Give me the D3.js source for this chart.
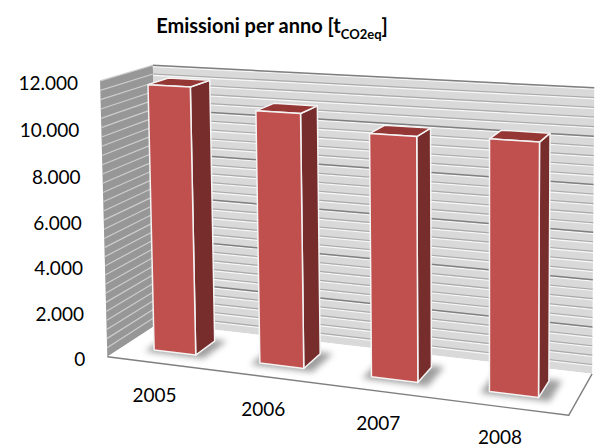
<!DOCTYPE html>
<html>
<head>
<meta charset="utf-8">
<script src="https://cdn.jsdelivr.net/npm/d3@7"></script>
<style>
  body { margin: 0; background: #fff; }
  svg { display: block; }
</style>
</head>
<body>
<script>
// ---- data ----
const years = ["2005", "2006", "2007", "2008"];
const emissions = [11700, 10850, 10200, 10300];
const yTicks = [0, 2000, 4000, 6000, 8000, 10000, 12000];
const yTickLabels = ["0", "2.000", "4.000", "6.000", "8.000", "10.000", "12.000"];
const yMax = 12000;
const minorStep = 400;

const width = 595, height = 448;
const FONT = "Lato, 'Open Sans', sans-serif";

// ---- world scales: x = category units, y = value fraction, z = depth (0 front, 1 back) ----
const xBand = d3.scaleBand().domain(years).range([0, years.length]).paddingInner(0.6).paddingOuter(0.3);
const zBand = d3.scaleBand().domain(["Emissioni"]).range([0, 1]).paddingInner(0.6).paddingOuter(0.3);
const yScale = d3.scaleLinear().domain([0, yMax]).range([0, 1]);
const X1 = years.length;

// ---- perspective view: 3x4 camera matrix fitted to the box corners on screen ----
const viewCorners = [
  { w: [0, 0, 0], s: [110, 357] },
  { w: [X1, 0, 0], s: [568, 416] },
  { w: [0, 0, 1], s: [156, 323] },
  { w: [X1, 0, 1], s: [593, 373] },
  { w: [0, 1, 0], s: [98, 80] },
  { w: [0, 1, 1], s: [155, 66] },
  { w: [X1, 1, 1], s: [594, 88] }
];

function fitCamera(pts) {
  const cx = 300, cy = 240, k = 300;           // normalise screen coords
  const A = [], b = [];
  pts.forEach(({ w: [X, Y, Z], s }) => {
    const x = (s[0] - cx) / k, y = (s[1] - cy) / k;
    A.push([X, Y, Z, 1, 0, 0, 0, 0, -x * X, -x * Y, -x * Z]); b.push(x);
    A.push([0, 0, 0, 0, X, Y, Z, 1, -y * X, -y * Y, -y * Z]); b.push(y);
  });
  const n = 11;
  const M = [];
  for (let i = 0; i < n; i++) {
    const row = new Array(n + 1).fill(0);
    for (let r = 0; r < A.length; r++) {
      for (let j = 0; j < n; j++) row[j] += A[r][i] * A[r][j];
      row[n] += A[r][i] * b[r];
    }
    M.push(row);
  }
  for (let c = 0; c < n; c++) {
    let p = c;
    for (let r = c + 1; r < n; r++) if (Math.abs(M[r][c]) > Math.abs(M[p][c])) p = r;
    [M[c], M[p]] = [M[p], M[c]];
    for (let r = 0; r < n; r++) {
      if (r === c) continue;
      const f = M[r][c] / M[c][c];
      for (let j = c; j <= n; j++) M[r][j] -= f * M[c][j];
    }
  }
  const q = M.map((row, i) => row[n] / row[i]);
  return ([X, Y, Z]) => {
    const w = q[8] * X + q[9] * Y + q[10] * Z + 1;
    return [
      cx + k * (q[0] * X + q[1] * Y + q[2] * Z + q[3]) / w,
      cy + k * (q[4] * X + q[5] * Y + q[6] * Z + q[7]) / w
    ];
  };
}
const project = fitCamera(viewCorners);
const poly = pts => "M" + pts.map(p => project(p).join(",")).join("L") + "Z";
const seg = (a, b) => "M" + project(a).join(",") + "L" + project(b).join(",");

// ---- svg ----
const svg = d3.select("body").append("svg")
  .attr("width", width).attr("height", height)
  .attr("viewBox", `0 0 ${width} ${height}`);

const defs = svg.append("defs");
defs.append("filter").attr("id", "soft").attr("x", "-50%").attr("y", "-50%").attr("width", "200%").attr("height", "200%")
  .append("feGaussianBlur").attr("stdDeviation", 3);

// title
const title = svg.append("text")
  .attr("x", 272).attr("y", 33)
  .attr("text-anchor", "middle")
  .attr("font-family", FONT).attr("font-weight", "bold")
  .attr("font-size", 20).attr("fill", "#000");
title.append("tspan").text("Emissioni per anno [t");
title.append("tspan").attr("font-size", 13).attr("dy", 6).text("CO2eq");
title.append("tspan").attr("dy", -6).text("]");

const scene = svg.append("g");

// side wall
scene.append("path").attr("d", poly([[0, 0, 0], [0, 1, 0], [0, 1, 1], [0, 0, 1]]))
  .attr("fill", "#979797");
// back wall
scene.append("path").attr("d", poly([[0, 0, 1], [0, 1, 1], [X1, 1, 1], [X1, 0, 1]]))
  .attr("fill", "#d9d9d9");

// gridlines
const gridVals = d3.range(minorStep, yMax + 1, minorStep);
const grid = scene.append("g");
gridVals.forEach(v => {
  const y = yScale(v);
  const major = v % 2000 === 0;
  // back wall: grooved line
  grid.append("path").attr("d", seg([0, y, 1], [X1, y, 1]))
    .attr("transform", "translate(0,1.3)")
    .attr("stroke", "#f7f7f7").attr("stroke-width", 1.2).attr("fill", "none");
  grid.append("path").attr("d", seg([0, y, 1], [X1, y, 1]))
    .attr("stroke", major ? "#7f7f7f" : "#a9a9a9").attr("stroke-width", major ? 1.5 : 1.1).attr("fill", "none");
  // side wall
  grid.append("path").attr("d", seg([0, y, 0], [0, y, 1]))
    .attr("stroke", "#cdcdcd").attr("stroke-width", 1.2).attr("fill", "none");
});

// floor
scene.append("path").attr("d", poly([[0, 0, 0], [X1, 0, 0], [X1, 0, 1], [0, 0, 1]]))
  .attr("fill", "#ffffff");
scene.append("path")
  .attr("d", "M" + [[0, 0, 0], [X1, 0, 0], [X1, 0, 1]].map(p => project(p).join(",")).join("L"))
  .attr("fill", "none").attr("stroke", "#7f7f7f").attr("stroke-width", 1.4).attr("stroke-linejoin", "round");

// y axis labels along the front edge of the side wall
svg.append("g").selectAll("text").data(yTicks).join("text")
  .attr("x", d => project([0, yScale(d), 0])[0] - 22)
  .attr("y", d => project([0, yScale(d), 0])[1] + 2)
  .attr("text-anchor", "end").attr("dominant-baseline", "central")
  .attr("font-family", FONT).attr("font-size", 19).attr("fill", "#000")
  .text((d, i) => yTickLabels[i]);

// category labels in front of the floor (kept inside the bottom edge)
svg.append("g").selectAll("text").data(years).join("text")
  .attr("x", d => project([xBand(d) + xBand.bandwidth() / 2, 0, 0])[0] - 5)
  .attr("y", d => Math.min(project([xBand(d) + xBand.bandwidth() / 2, 0, 0])[1] + 31, height - 12))
  .attr("text-anchor", "middle").attr("dominant-baseline", "central")
  .attr("font-family", FONT).attr("font-size", 19).attr("fill", "#000")
  .text(d => d);

// bars
const z0 = zBand("Emissioni"), z1 = z0 + zBand.bandwidth();
const bars = scene.append("g");
years.forEach((yr, i) => {
  const x0 = xBand(yr), x1 = x0 + xBand.bandwidth();
  const h = yScale(emissions[i]);
  const g = bars.append("g");
  // soft shadow on the floor
  g.append("path")
    .attr("d", poly([[x0 - 0.06, 0, z0 - 0.06], [x1 + 0.1, 0, z0 - 0.06], [x1 + 0.1, 0, z1 + 0.04], [x0 - 0.06, 0, z1 + 0.04]]))
    .attr("fill", "#505050").attr("opacity", 0.55).attr("filter", "url(#soft)");
  const face = (pts, fill) => g.append("path").attr("d", poly(pts))
    .attr("fill", fill).attr("stroke", "#f4f4f4").attr("stroke-width", 1.5).attr("stroke-linejoin", "round");
  face([[x1, 0, z0], [x1, h, z0], [x1, h, z1], [x1, 0, z1]], "#772d2c");
  face([[x0, h, z0], [x1, h, z0], [x1, h, z1], [x0, h, z1]], "#953735");
  face([[x0, 0, z0], [x0, h, z0], [x1, h, z0], [x1, 0, z0]], "#c0504d");
});
</script>
</body>
</html>
